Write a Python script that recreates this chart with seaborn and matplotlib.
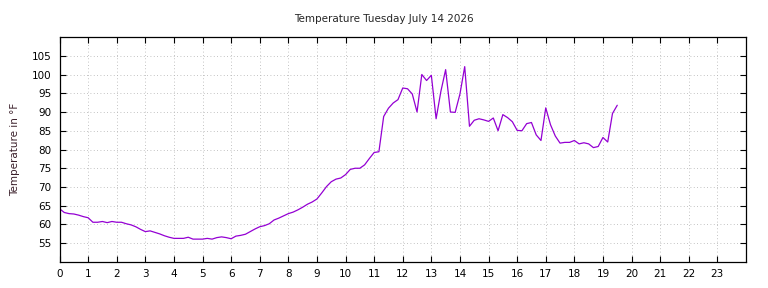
import numpy as np
import pandas as pd
import seaborn as sns
import matplotlib.pyplot as plt

# readings every 10 minutes, starting at midnight
temps_f = [
    64.2, 63.2, 62.9, 62.8, 62.5, 62.1, 61.8, 60.6, 60.6, 60.8,
    60.5, 60.8, 60.6, 60.6, 60.2, 59.9, 59.4, 58.7, 58.1, 58.3,
    57.9, 57.5, 57.0, 56.6, 56.3, 56.3, 56.3, 56.6, 56.1, 56.1,
    56.1, 56.3, 56.1, 56.5, 56.7, 56.5, 56.2, 56.9, 57.1, 57.4,
    58.1, 58.8, 59.4, 59.7, 60.2, 61.2, 61.7, 62.3, 62.9, 63.3,
    63.9, 64.6, 65.4, 66.0, 66.8, 68.4, 70.1, 71.4, 72.1, 72.4,
    73.3, 74.7, 75.0, 75.0, 75.9, 77.6, 79.2, 79.4, 88.8, 91.0,
    92.4, 93.3, 96.4, 96.2, 94.8, 90.0, 100.0, 98.4, 99.8, 88.2,
    95.5, 101.3, 90.0, 89.9, 94.8, 102.1, 86.2, 87.8, 88.2, 87.9,
    87.5, 88.4, 85.0, 89.3, 88.5, 87.4, 85.1, 85.0, 86.9, 87.2,
    83.9, 82.4, 91.1, 86.6, 83.6, 81.7, 81.9, 81.9, 82.4, 81.5,
    81.8, 81.5, 80.5, 80.8, 83.2, 82.0, 89.6, 91.8,
]
minutes = [10 * i for i in range(len(temps_f))]
hour_ticks = list(range(24))
temp_ticks = list(range(55, 110, 5))

df = pd.DataFrame({'hour': np.array(minutes) / 60.0, 'temp': temps_f})

sns.set_style('ticks')
plt.rcParams['font.family'] = ['DejaVu Sans']

fig = plt.figure(figsize=(7.68, 2.88), dpi=100)
ax = fig.add_axes([0.0775, 0.0903, 0.8938, 0.7812])

sns.lineplot(data=df, x='hour', y='temp', ax=ax, color='#9400d3', linewidth=0.9)

ax.set_xlim(0, 24)
ax.set_ylim(50, 110)
ax.set_xticks(hour_ticks)
ax.set_yticks(temp_ticks)
ax.grid(True, linestyle=(0, (1, 3)), color='#b0b0b0', linewidth=0.6)
ax.tick_params(direction='in', length=4, width=0.8, top=True, right=True,
               labelsize=7.5, colors='black')
ax.tick_params(axis='x', pad=5)
ax.tick_params(axis='y', pad=6)
for s in ax.spines.values():
    s.set_linewidth(0.9)
    s.set_color('black')

ax.set_xlabel('')
ax.set_ylabel('Temperature in °F', fontsize=7.5, color='#3a1f2a', labelpad=8)
fig.text(0.5, 0.935, 'Temperature Tuesday July 14 2026', ha='center', va='center', fontsize=7.5)

fig.savefig('out.png', dpi=100)
